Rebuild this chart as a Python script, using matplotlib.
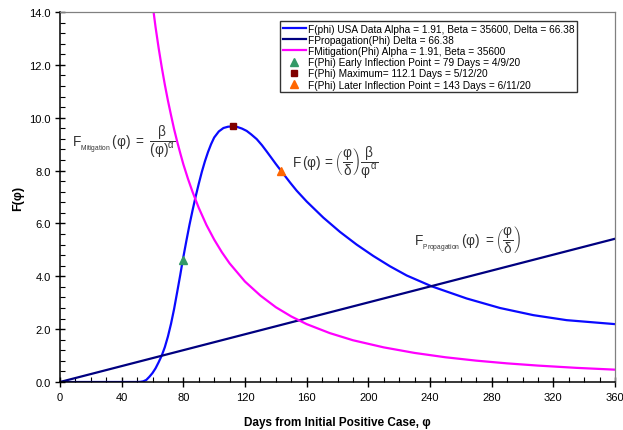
import matplotlib
matplotlib.use("Agg")
import matplotlib.pyplot as plt
from matplotlib.ticker import MultipleLocator, FormatStrFormatter

plt.rcParams["font.family"] = ["Liberation Sans", "DejaVu Sans"]
plt.rcParams["mathtext.fontset"] = "custom"
plt.rcParams["mathtext.rm"] = "Liberation Sans"
plt.rcParams["mathtext.it"] = "Liberation Sans"
plt.rcParams["mathtext.sf"] = "Liberation Sans"
plt.rcParams["mathtext.bf"] = "Liberation Sans:bold"

# ── values ────────────────────────────────────────────────────────────────────
days_total = [0, 50, 52, 54, 56, 58, 60, 62, 64, 66, 68, 70, 72, 74, 76, 78,
              79.6, 82, 84, 86, 88, 90, 92, 94, 96, 98, 100, 103, 106, 109,
              112.1, 115, 118, 121.1, 124, 127.6, 131, 134.1, 137, 140, 143.8,
              149.2, 153.5, 160, 170.8, 181.6, 192.4, 203.2, 214, 224.9, 241.1,
              263.8, 285.4, 307, 328.6, 360]
f_total = [0, 0, 0.005, 0.025, 0.08, 0.2, 0.34, 0.52, 0.75, 1.0, 1.32, 1.72,
           2.2, 2.76, 3.4, 4.05, 4.6, 5.35, 5.95, 6.5, 7.02, 7.5, 7.95, 8.35,
           8.7, 9.0, 9.25, 9.48, 9.61, 9.66, 9.67, 9.65, 9.59, 9.5, 9.37, 9.19,
           8.96, 8.72, 8.49, 8.25, 7.96, 7.55, 7.24, 6.83, 6.22, 5.68, 5.2,
           4.77, 4.38, 4.03, 3.62, 3.16, 2.8, 2.53, 2.34, 2.19]

days_prop = [0, 360]
f_prop = [0, 5.42]

days_mit = [60.7, 62, 64, 66, 68, 70, 72, 74, 76, 78, 80, 83, 86, 90, 95, 100,
            105, 110, 120, 130, 140, 150, 160, 175, 190, 210, 230, 250, 270,
            290, 310, 335, 360]
f_mit = [14.0, 13.42, 12.63, 11.91, 11.25, 10.65, 10.1, 9.57, 9.1, 8.66, 8.24,
         7.69, 7.19, 6.59, 5.94, 5.39, 4.91, 4.49, 3.8, 3.27, 2.83, 2.48, 2.19,
         1.85, 1.58, 1.31, 1.1, 0.936, 0.808, 0.705, 0.621, 0.535, 0.467]

early_pt = (79.5, 4.6)
max_pt = (112.1, 9.67)
late_pt = (143.3, 8.0)

labels = [
    "F(phi) USA Data Alpha = 1.91, Beta = 35600, Delta = 66.38",
    "FPropagation(Phi) Delta = 66.38",
    "FMitigation(Phi) Alpha = 1.91, Beta = 35600",
    "F(Phi) Early Inflection Point = 79 Days = 4/9/20",
    "F(Phi) Maximum= 112.1 Days = 5/12/20",
    "F(Phi) Later Inflection Point = 143 Days = 6/11/20",
]

fig = plt.figure(figsize=(6.23, 4.31), dpi=100)
ax = fig.add_axes([60 / 623, 48 / 431, 555 / 623, 370 / 431])

ax.plot(days_total, f_total, color="#0a0aff", lw=1.6, label=labels[0])
ax.plot(days_prop, f_prop, color="#000080", lw=1.6, label=labels[1])
ax.plot(days_mit, f_mit, color="#ff00ff", lw=1.6, label=labels[2])
ax.plot(*early_pt, ls="none", marker="^", ms=5.5, color="#339966", label=labels[3])
ax.plot(*max_pt, ls="none", marker="s", ms=5, color="#800000", label=labels[4])
ax.plot(*late_pt, ls="none", marker="^", ms=5.5, color="#ff6600", label=labels[5])

ax.set_xlim(0, 360)
ax.set_ylim(0, 14)
ax.xaxis.set_major_locator(MultipleLocator(40))
ax.xaxis.set_minor_locator(MultipleLocator(10))
ax.yaxis.set_major_locator(MultipleLocator(2))
ax.yaxis.set_minor_locator(MultipleLocator(0.4))
ax.yaxis.set_major_formatter(FormatStrFormatter("%.1f"))
ax.tick_params(which="major", direction="inout", length=7, width=1, labelsize=8, color="black")
ax.tick_params(which="minor", direction="in", length=3.5, width=0.8, color="black")
ax.tick_params(axis="x", pad=4)
ax.tick_params(axis="y", pad=3)
for side in ("top", "right"):
    ax.spines[side].set_color("#808080")
    ax.spines[side].set_linewidth(0.9)
for side in ("left", "bottom"):
    ax.spines[side].set_linewidth(1.1)

ax.set_xlabel("Days from Initial Positive Case, φ", fontsize=8.5, fontweight="bold", labelpad=10)
ax.set_ylabel("F(φ)", fontsize=9, fontweight="bold", labelpad=4)

# equations on the chart
eq_kw = dict(fontsize=9.8, color="#333333", va="center", ha="left")
ax.text(7.8, 9.12, r"$\mathrm{F}_{_{\mathrm{Mitigation}}}\,(\varphi)\ =\ \dfrac{\beta}{(\varphi)^{\alpha}}$", **eq_kw)
ax.text(150.3, 8.35, r"$\mathrm{F}\,(\varphi)\,=\left(\dfrac{\varphi}{\delta}\right)\dfrac{\beta}{\varphi^{\alpha}}$", **eq_kw)
ax.text(229.5, 5.38, r"$\mathrm{F}_{_{\mathrm{Propagation}}}\,(\varphi)\ =\left(\dfrac{\varphi}{\delta}\right)$", **eq_kw)

leg = ax.legend(loc="upper left", bbox_to_anchor=((280 - 60) / 555, (383 - 22) / 370),
                fontsize=7.3, frameon=True, fancybox=False, borderpad=0.25,
                labelspacing=0.12, handlelength=2.3, handletextpad=0.2,
                borderaxespad=0)
leg.get_frame().set_edgecolor("black")
leg.get_frame().set_linewidth(1.0)

fig.savefig("out.png", dpi=100)
